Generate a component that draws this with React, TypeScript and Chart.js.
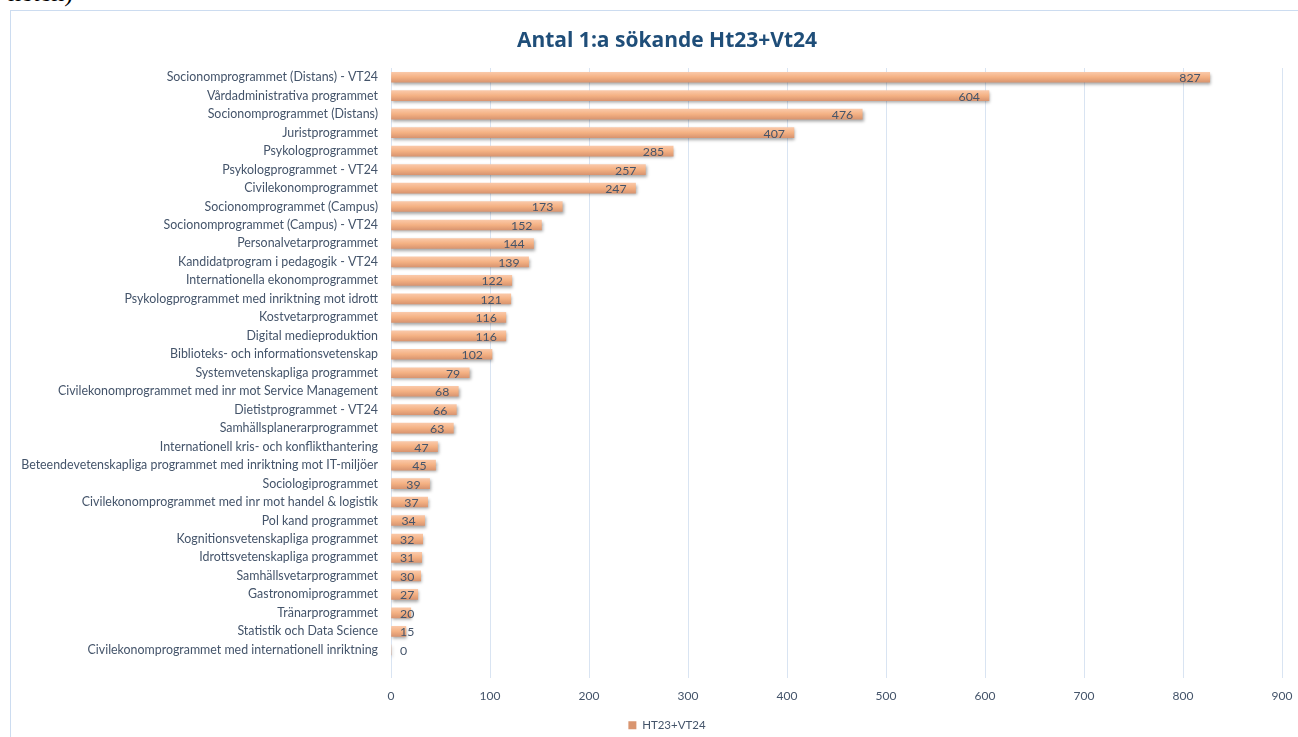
import React, { useEffect, useRef } from "react";
import { Chart, registerables } from "chart.js";

Chart.register(...registerables);

const titleText = "Antal 1:a sökande Ht23+Vt24";
const seriesName = "HT23+VT24";

const categories = [
  "Socionomprogrammet (Distans) - VT24",
  "Vårdadministrativa programmet",
  "Socionomprogrammet (Distans)",
  "Juristprogrammet",
  "Psykologprogrammet",
  "Psykologprogrammet - VT24",
  "Civilekonomprogrammet",
  "Socionomprogrammet (Campus)",
  "Socionomprogrammet (Campus) - VT24",
  "Personalvetarprogrammet",
  "Kandidatprogram i pedagogik - VT24",
  "Internationella ekonomprogrammet",
  "Psykologprogrammet med inriktning mot idrott",
  "Kostvetarprogrammet",
  "Digital medieproduktion",
  "Biblioteks- och informationsvetenskap",
  "Systemvetenskapliga programmet",
  "Civilekonomprogrammet med inr mot Service Management",
  "Dietistprogrammet - VT24",
  "Samhällsplanerarprogrammet",
  "Internationell kris- och konflikthantering",
  "Beteendevetenskapliga programmet med inriktning mot IT-miljöer",
  "Sociologiprogrammet",
  "Civilekonomprogrammet med inr mot handel & logistik",
  "Pol kand programmet",
  "Kognitionsvetenskapliga programmet",
  "Idrottsvetenskapliga programmet",
  "Samhällsvetarprogrammet",
  "Gastronomiprogrammet",
  "Tränarprogrammet",
  "Statistik och Data Science",
  "Civilekonomprogrammet med internationell inriktning",
  "",
];

const values: (number | null)[] = [
  827, 604, 476, 407, 285, 257, 247, 173, 152, 144, 139, 122, 121, 116, 116,
  102, 79, 68, 66, 63, 47, 45, 39, 37, 34, 32, 31, 30, 27, 20, 15, 0, null,
];

const xTickMin = 0;
const xTickMax = 900;
const xTickStep = 100;

const FONT = "Lato, 'Open Sans', sans-serif";
const TITLE_FONT = "'Open Sans', Lato, sans-serif";
const TEXT = "#44546A";

export default function App() {
  const ref = useRef<HTMLCanvasElement>(null);

  useEffect(() => {
    const canvas = ref.current;
    if (!canvas) return;

    const barPlugin = {
      id: "barStyle",
      beforeDatasetsDraw(chart: any) {
        const ctx = chart.ctx;
        ctx.save();
        ctx.shadowColor = "rgba(0,0,0,0.35)";
        ctx.shadowOffsetX = 1;
        ctx.shadowOffsetY = 2;
        ctx.shadowBlur = 3;
      },
      afterDatasetsDraw(chart: any) {
        const ctx = chart.ctx;
        ctx.restore();
        const meta = chart.getDatasetMeta(0);
        const xs = chart.scales.x;
        const x0 = xs.getPixelForValue(0);
        ctx.save();
        ctx.font = `12.3px ${FONT}`;
        ctx.fillStyle = TEXT;
        ctx.textBaseline = "middle";
        ctx.textAlign = "left";
        meta.data.forEach((el: any, i: number) => {
          const v = values[i];
          if (v === null || v === undefined) return;
          const t = String(v);
          const w = ctx.measureText(t).width;
          const left = Math.max(x0 + 9, el.x - 9 - w);
          ctx.fillText(t, left, el.y + 1);
        });
        ctx.restore();
      },
    };

    const chart = new Chart(canvas, {
      type: "bar",
      data: {
        labels: categories,
        datasets: [
          {
            label: seriesName,
            data: values as any,
            barThickness: 10,
            borderWidth: 0,
            backgroundColor: (c: any) => {
              const ch = c.chart;
              if (typeof c.dataIndex !== "number" || !ch.scales || !ch.scales.y) return "#F4B183";
              const y = ch.scales.y.getPixelForValue(c.dataIndex);
              if (!isFinite(y)) return "#F4B183";
              const g = ch.ctx.createLinearGradient(0, y - 5, 0, y + 5);
              g.addColorStop(0, "#FAC8A8");
              g.addColorStop(0.5, "#F4B183");
              g.addColorStop(1, "#D99570");
              return g;
            },
          },
        ],
      },
      options: {
        indexAxis: "y",
        responsive: false,
        animation: false,
        events: [],
        layout: { padding: { left: 8, right: 0, top: 0, bottom: 0 } },
        plugins: {
          title: {
            display: true,
            text: titleText,
            color: "#1F4E79",
            font: { family: TITLE_FONT, size: 21, weight: "bold" },
            padding: { top: 17, bottom: 14.8 },
          },
          legend: {
            display: true,
            position: "bottom",
            labels: {
              boxWidth: 8,
              boxHeight: 8,
              color: TEXT,
              font: { family: FONT, size: 11.5 },
              padding: 6,
            },
          },
          tooltip: { enabled: false },
        },
        scales: {
          x: {
            type: "linear",
            min: xTickMin,
            max: xTickMax,
            ticks: {
              stepSize: xTickStep,
              color: TEXT,
              font: { family: FONT, size: 12 },
              padding: 11.4,
            },
            grid: { color: "#D9E4F2", drawTicks: false, lineWidth: 1 },
            border: { display: false },
            afterFit(s: any) {
              s.height = 36;
            },
          },
          y: {
            type: "category",
            position: "left",
            grid: { display: false },
            border: { display: false },
            ticks: {
              color: TEXT,
              font: { family: FONT, size: 12.4 },
              padding: 5,
              autoSkip: false,
            },
            afterFit(s: any) {
              s.width = 372;
            },
          },
          yRight: {
            type: "category",
            position: "right",
            display: true,
            grid: { display: false },
            border: { display: false },
            ticks: { display: false },
            afterFit(s: any) {
              s.width = 33;
            },
          },
        },
      } as any,
      plugins: [barPlugin],
    });

    return () => chart.destroy();
  }, []);

  return (
    <div
      style={{
        position: "fixed",
        left: 0,
        top: 0,
        width: 1298,
        height: 737,
        overflow: "hidden",
        background: "#fff",
      }}
    >
      <div
        style={{
          position: "absolute",
          left: 8,
          top: -19,
          fontFamily: "'Liberation Serif', serif",
          fontSize: 26,
          lineHeight: "24px",
          color: "#000",
          whiteSpace: "nowrap",
        }}
      >
        heten)
      </div>
      <div
        style={{
          position: "absolute",
          left: 10,
          top: 10,
          width: 1304,
          height: 740,
          border: "1px solid #CCDCF0",
          background: "#fff",
        }}
      >
        <canvas ref={ref} width={1304} height={730} style={{ display: "block" }} />
      </div>
    </div>
  );
}
